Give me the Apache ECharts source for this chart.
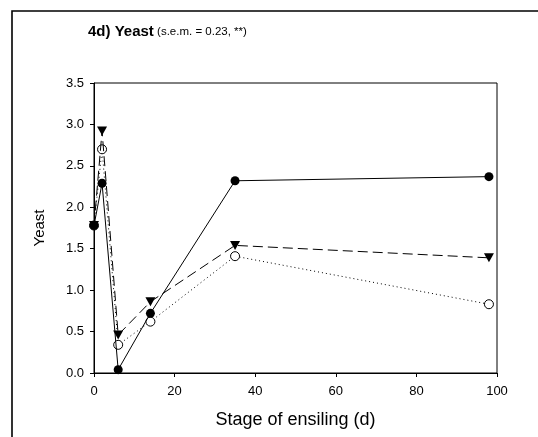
<!DOCTYPE html>
<html>
<head>
    <meta charset="utf-8">
    <title>4d) Yeast</title>
    <script src="https://cdn.jsdelivr.net/npm/echarts@6/dist/echarts.min.js"></script>
    <style>
        html, body { margin: 0; padding: 0; background: #fff; }
        #chart1 { width: 538px; height: 437px; }
    </style>
</head>
<body>
<div id="chart1"></div>
<script type="text/javascript">
    // 数据 (days of ensiling, yeast count)
    var days = [0, 2, 6, 14, 35, 98];
    var yeastSolid = [1.78, 2.29, 0.04, 0.72, 2.32, 2.37];
    var yeastTriangle = [1.78, 2.92, 0.46, 0.86, 1.54, 1.39];
    var yeastOpen = [1.78, 2.70, 0.34, 0.62, 1.41, 0.83];
    var xTicks = [0, 20, 40, 60, 80, 100];
    var yTicks = [0, 0.5, 1, 1.5, 2, 2.5, 3, 3.5];

    function pairs(vals) {
        return days.map(function (d, i) { return [d, vals[i]]; });
    }

    var font = 'Liberation Sans, Arial, sans-serif';
    var myChart1 = echarts.init(document.getElementById('chart1'));

    myChart1.setOption({
        animation: false,
        backgroundColor: '#fff',
        textStyle: { fontFamily: font },
        title: {
            text: '{b|4d) Yeast}{n| (s.e.m. = 0.23, **)}',
            left: 88,
            top: 24,
            padding: 0,
            textStyle: {
                rich: {
                    b: { fontFamily: font, fontWeight: 'bold', fontSize: 15, color: '#000' },
                    n: { fontFamily: font, fontWeight: 'normal', fontSize: 11.5, color: '#000' }
                }
            }
        },
        graphic: [{
            type: 'rect',
            shape: { x: 12, y: 11, width: 1000, height: 1000 },
            style: { fill: 'none', stroke: '#000', lineWidth: 1.6 },
            silent: true
        }],
        grid: {
            left: 94, right: 41, top: 83, bottom: 64,
            show: true, borderColor: '#000', borderWidth: 1
        },
        xAxis: {
            type: 'value',
            min: xTicks[0], max: xTicks[xTicks.length - 1], interval: 20,
            name: 'Stage of ensiling (d)',
            nameLocation: 'middle',
            nameGap: 38,
            nameTextStyle: { fontSize: 18, color: '#000', fontFamily: font },
            axisLine: { lineStyle: { color: '#000', width: 1 } },
            axisTick: { show: true, inside: false, length: 4, lineStyle: { color: '#000' } },
            axisLabel: { fontSize: 13, color: '#000', margin: 12, fontFamily: font },
            splitLine: { show: false }
        },
        yAxis: {
            type: 'value',
            min: yTicks[0], max: yTicks[yTicks.length - 1], interval: 0.5,
            name: 'Yeast',
            nameLocation: 'middle',
            nameGap: 47,
            nameTextStyle: { fontSize: 15, color: '#000', fontFamily: font },
            axisLine: { show: true, lineStyle: { color: '#000', width: 1 } },
            axisTick: { show: true, inside: false, length: 4, lineStyle: { color: '#000' } },
            axisLabel: {
                fontSize: 13, color: '#000', margin: 10, fontFamily: font,
                formatter: function (v) { return v.toFixed(1); }
            },
            splitLine: { show: false }
        },
        series: [
            {
                name: 'open',
                type: 'line',
                data: pairs(yeastOpen),
                symbol: 'circle',
                symbolSize: 9,
                lineStyle: { color: '#000', width: 1, type: [1, 3] },
                itemStyle: { color: '#fff', borderColor: '#000', borderWidth: 1 },
                z: 2
            },
            {
                name: 'triangle',
                type: 'line',
                data: pairs(yeastTriangle),
                symbol: 'triangle',
                symbolRotate: 180,
                symbolSize: [10, 9],
                lineStyle: { color: '#000', width: 1, type: [10, 5] },
                itemStyle: { color: '#000', borderColor: '#000', borderWidth: 0 },
                z: 3
            },
            {
                name: 'solid',
                type: 'line',
                data: pairs(yeastSolid),
                symbol: 'circle',
                symbolSize: 9,
                lineStyle: { color: '#000', width: 1, type: 'solid' },
                itemStyle: { color: '#000', borderColor: '#000', borderWidth: 0 },
                z: 4
            }
        ]
    });
</script>
</body>
</html>
